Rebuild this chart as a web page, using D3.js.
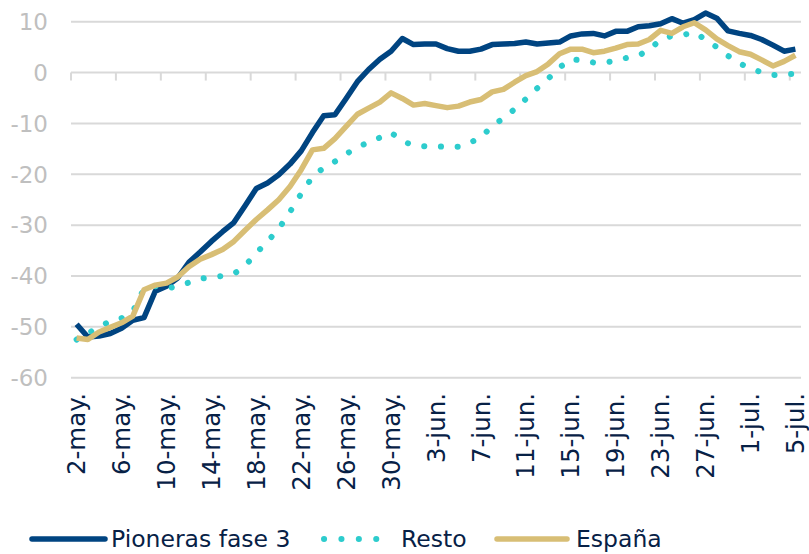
<!DOCTYPE html>
<meta charset="utf-8">
<script src="https://d3js.org/d3.v7.min.js"></script>
<style>
  body { margin: 0; background: #fff; }
  text { font-family: "DejaVu Sans", sans-serif; }
</style>
<div id="chart"></div>
<script>
// daily categories, 2 May - 5 Jul
const days = [
  "2-may.","3-may.","4-may.","5-may.","6-may.","7-may.","8-may.","9-may.","10-may.","11-may.",
  "12-may.","13-may.","14-may.","15-may.","16-may.","17-may.","18-may.","19-may.","20-may.","21-may.",
  "22-may.","23-may.","24-may.","25-may.","26-may.","27-may.","28-may.","29-may.","30-may.","31-may.",
  "1-jun.","2-jun.","3-jun.","4-jun.","5-jun.","6-jun.","7-jun.","8-jun.","9-jun.","10-jun.",
  "11-jun.","12-jun.","13-jun.","14-jun.","15-jun.","16-jun.","17-jun.","18-jun.","19-jun.","20-jun.",
  "21-jun.","22-jun.","23-jun.","24-jun.","25-jun.","26-jun.","27-jun.","28-jun.","29-jun.","30-jun.",
  "1-jul.","2-jul.","3-jul.","4-jul.","5-jul."
];
const tickDays = days.filter((d, i) => i % 4 === 0);
const yTicks = [-60, -50, -40, -30, -20, -10, 0, 10];

const pioneras = [
  -49.5, -52, -51.8, -51.3, -50.3, -48.7, -48.2, -43, -42, -40.4,
  -37.3, -35.3, -33.2, -31.3, -29.5, -26.2, -22.8, -21.7, -20.1, -18,
  -15.4, -11.8, -8.5, -8.3, -5.1, -1.8, 0.6, 2.6, 4.2, 6.7,
  5.5, 5.6, 5.6, 4.7, 4.2, 4.2, 4.6, 5.5, 5.6, 5.7,
  6.0, 5.6, 5.8, 6.0, 7.2, 7.6, 7.7, 7.2, 8.1, 8.1,
  9.0, 9.2, 9.6, 10.6, 9.7, 10.4, 11.7, 10.7, 8.2, 7.7,
  7.3, 6.5, 5.4, 4.2, 4.6
];
const resto = [
  -52.5, -51.3, -50, -48.9, -48.3, -47, -42.5, -42, -42.5, -42,
  -41.3, -40.5, -40.3, -40, -39.6, -38, -35.5, -33.2, -30.7, -27.4,
  -23.8, -20.5, -18.7, -17.5, -16, -14.7, -13.7, -12.8, -11.8, -13.5,
  -14.3, -14.5, -14.5, -14.6, -14.6, -13.8, -12.8, -10.5, -9, -7.2,
  -5.2, -3.1, -1.2, 1.0, 2.6, 2.4, 2.0, 1.9, 2.4, 2.9,
  3.3, 4.5, 6.5, 7.2, 7.4, 7.9, 6.5, 5.0, 3.3, 1.8,
  0.9, 0, -0.5, -0.3, -0.3
];
const espana = [
  -52.2, -52.5, -51, -50.1, -49.2, -47.9, -42.7, -41.8, -41.4, -40.2,
  -38.2, -36.7, -35.8, -34.8, -33.2, -31, -28.9, -27, -25, -22.4,
  -19.1, -15.2, -14.9, -13, -10.6, -8.2, -7.0, -5.8, -4.0, -5.1,
  -6.4, -6.1, -6.5, -6.9, -6.6, -5.8, -5.3, -3.8, -3.3, -1.9,
  -0.6, 0.2, 1.7, 3.7, 4.6, 4.6, 3.9, 4.2, 4.8, 5.5,
  5.6, 6.5, 8.3, 7.7, 9.0, 9.8, 8.4, 6.6, 5.3, 4.1,
  3.6, 2.5, 1.3, 2.2, 3.4
];

const series = [
  { name: "Pioneras fase 3", values: pioneras, color: "#004481", dots: false },
  { name: "Resto", values: resto, color: "#2DCCCD", dots: true },
  { name: "España", values: espana, color: "#D8BE75", dots: false }
];

const width = 809, height = 554;
const svg = d3.select("#chart").append("svg")
  .attr("width", width)
  .attr("height", height);

const x = d3.scaleBand().domain(days).range([71, 801]);
const xc = d => x(d) + x.bandwidth() / 2;
const y = d3.scaleLinear().domain([-60, 10]).range([377.7, 21.7]);

// gridlines
svg.append("g").selectAll("line")
  .data(yTicks)
  .join("line")
    .attr("x1", 71).attr("x2", 801)
    .attr("y1", d => y(d)).attr("y2", d => y(d))
    .attr("stroke", "#D9D9D9")
    .attr("stroke-width", 2);

// y labels
svg.append("g").selectAll("text")
  .data(yTicks)
  .join("text")
    .attr("x", 48)
    .attr("y", d => y(d))
    .attr("dy", "0.36em")
    .attr("text-anchor", "end")
    .attr("font-size", 23)
    .attr("fill", "#BFBFBF")
    .text(d => d);

// category ticks on the zero line
svg.append("g").selectAll("line")
  .data(tickDays)
  .join("line")
    .attr("x1", d => x(d)).attr("x2", d => x(d))
    .attr("y1", y(0)).attr("y2", y(0) + 8)
    .attr("stroke", "#D9D9D9")
    .attr("stroke-width", 2);

// x labels, rotated
svg.append("g").selectAll("text")
  .data(tickDays)
  .join("text")
    .attr("transform", d => `translate(${xc(d)},393) rotate(-90)`)
    .attr("dy", "0.35em")
    .attr("text-anchor", "end")
    .attr("font-size", 24.5)
    .attr("fill", "#072146")
    .text(d => d);

// lines
const line = d3.line()
  .x((v, i) => xc(days[i]))
  .y(v => y(v));

svg.append("g").selectAll("path")
  .data(series)
  .join("path")
    .attr("d", s => line(s.values))
    .attr("fill", "none")
    .attr("stroke", s => s.color)
    .attr("stroke-width", s => s.dots ? 6 : 5.5)
    .attr("stroke-linejoin", "round")
    .attr("stroke-linecap", s => s.dots ? "round" : "butt")
    .attr("stroke-dasharray", s => s.dots ? "0.1 16.6" : null);

// legend
const legendY = 539;
const legendItems = [
  { s: series[0], x1: 32, x2: 105, tx: 111 },
  { s: series[1], x1: 324, x2: 380, tx: 401 },
  { s: series[2], x1: 497, x2: 567, tx: 576 }
];
const lg = svg.append("g").selectAll("g")
  .data(legendItems)
  .join("g");

lg.append("line")
  .attr("x1", d => d.x1).attr("x2", d => d.x2)
  .attr("y1", legendY).attr("y2", legendY)
  .attr("stroke", d => d.s.color)
  .attr("stroke-width", d => d.s.dots ? 6 : 5.5)
  .attr("stroke-linecap", "round")
  .attr("stroke-dasharray", d => d.s.dots ? "0.1 17.3" : null);

lg.append("text")
  .attr("x", d => d.tx)
  .attr("y", legendY)
  .attr("dy", "0.36em")
  .attr("font-size", 23.5)
  .attr("fill", "#072146")
  .text(d => d.s.name);
</script>
